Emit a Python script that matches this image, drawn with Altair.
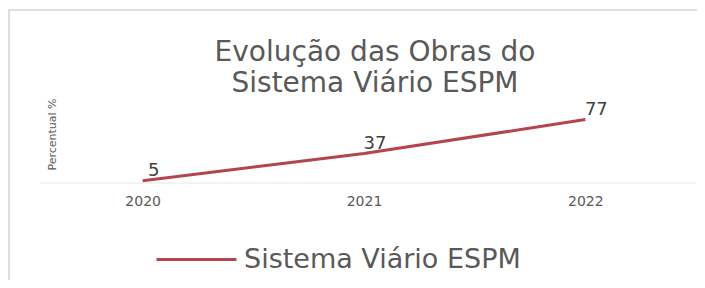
import altair as alt
import pandas as pd

years = ["2020", "2021", "2022"]
values = [5, 37, 77]
series_name = "Sistema Viário ESPM"
title_lines = ["Evolução das Obras do", "Sistema Viário ESPM"]
y_title = "Percentual %"

df = pd.DataFrame({"Ano": years, "Valor": values, "Serie": [series_name] * len(years)})

FONT = "DejaVu Sans"
GRAY = "#595959"
LINE = "#b5454c"

W, H = 664, 85

base = alt.Chart(df)

border = alt.Chart(pd.DataFrame({"k": [0]})).mark_rect(
    fillOpacity=0, stroke="#d4d4d4", strokeWidth=1.5
).encode(
    x=alt.value(-23), x2=alt.value(700), y=alt.value(-90), y2=alt.value(300)
)

baseline = alt.Chart(pd.DataFrame({"k": [0]})).mark_rule(
    color="#e6e6e6", strokeWidth=1
).encode(x=alt.value(8), x2=alt.value(664), y=alt.value(H - 2))

title_layers = []
for txt, ypos in zip(title_lines, [-39, -8]):
    title_layers.append(
        alt.Chart(pd.DataFrame({"t": [txt]})).mark_text(
            font=FONT, fontSize=28, color=GRAY, align="center", baseline="alphabetic"
        ).encode(text="t:N", x=alt.value(343), y=alt.value(ypos))
    )

line = base.mark_line(strokeWidth=3).encode(
    x=alt.X("Ano:N", scale=alt.Scale(type="point", padding=0.5),
            axis=alt.Axis(title=None, labelAngle=0, ticks=False, domain=False,
                          labelFont=FONT, labelFontSize=14, labelColor=GRAY,
                          labelPadding=9)),
    y=alt.Y("Valor:Q", scale=alt.Scale(domain=[0, 100], nice=False),
            axis=alt.Axis(title=y_title, labels=False, ticks=False, domain=False,
                          grid=False, titleFont=FONT, titleFontSize=11,
                          titleFontWeight="normal", titleColor=GRAY,
                          titleAngle=270, titleX=20, titleY=34,
                          titleAlign="center", titleBaseline="middle")),
    color=alt.Color("Serie:N", scale=alt.Scale(domain=[series_name], range=[LINE]),
                    legend=alt.Legend(title=None, orient="none", legendX=123, legendY=118,
                                      symbolType="stroke", symbolSize=6400,
                                      symbolStrokeWidth=3, labelFont=FONT,
                                      labelFontSize=27, labelColor=GRAY,
                                      labelOffset=6, labelLimit=0, padding=0)),
)

labels = base.mark_text(font=FONT, fontSize=18, color="#404040", dx=11, dy=-10,
                        align="center", baseline="middle").encode(
    x=alt.X("Ano:N", scale=alt.Scale(type="point", padding=0.5)),
    y=alt.Y("Valor:Q", scale=alt.Scale(domain=[0, 100], nice=False)),
    text=alt.Text("Valor:Q"),
)

chart = alt.layer(border, baseline, *title_layers, line, labels).properties(
    width=W, height=H,
    autosize=alt.AutoSizeParams(type="none"),
    padding={"left": 24, "top": 92, "right": 1, "bottom": 95},
    background="white",
).configure_view(stroke=None)

chart.save("out.html", embed_options={"renderer": "svg", "actions": False})
